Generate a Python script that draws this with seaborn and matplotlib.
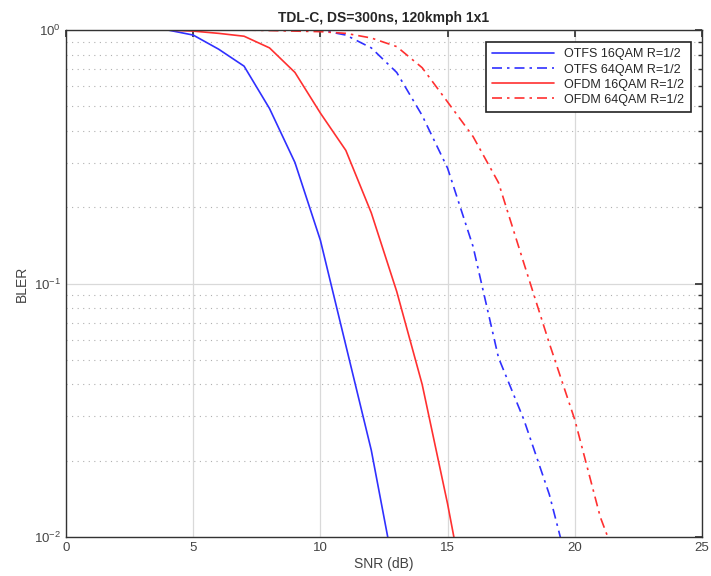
import pandas as pd
import matplotlib
matplotlib.use("Agg")
import matplotlib.pyplot as plt
import seaborn as sns

# Datos (BLER vs SNR)
snr = list(range(0, 23))

otfs_16qam = [1, 1, 1, 1, 1, 0.955, 0.84, 0.72, 0.49, 0.30, 0.148, 0.057, 0.022, 0.0065]
ofdm_16qam = [1, 1, 1, 1, 1, 0.99, 0.97, 0.945, 0.85, 0.68, 0.47, 0.335, 0.19, 0.093, 0.040,
              0.0135, 0.004]
otfs_64qam = [1, 1, 1, 1, 1, 1, 1, 1, 1, 1, 1, 0.955, 0.85, 0.68, 0.46, 0.285, 0.14, 0.051,
              0.029, 0.0147, 0.006]
ofdm_64qam = [1, 1, 1, 1, 1, 1, 1, 1, 0.995, 0.99, 0.985, 0.97, 0.93, 0.86, 0.71, 0.52, 0.38,
              0.25, 0.12, 0.058, 0.029, 0.012, 0.0065]

etiquetas = ["OTFS 16QAM R=1/2", "OTFS 64QAM R=1/2", "OFDM 16QAM R=1/2", "OFDM 64QAM R=1/2"]
series = [otfs_16qam, otfs_64qam, ofdm_16qam, ofdm_64qam]

filas = []
for etiqueta, valores in zip(etiquetas, series):
    for x, y in zip(snr, valores):
        filas.append({"SNR": x, "BLER": y, "Curva": etiqueta})
df = pd.DataFrame(filas)

sns.set_theme(style="white")
plt.rcParams["font.family"] = ["Liberation Sans", "DejaVu Sans"]
plt.rcParams["mathtext.fontset"] = "custom"
plt.rcParams["mathtext.rm"] = "Liberation Sans"
plt.rcParams["mathtext.it"] = "Liberation Sans:italic"
plt.rcParams["axes.unicode_minus"] = False

fig = plt.figure(figsize=(7.11, 5.76), dpi=100)
ax = fig.add_axes([66 / 711, 39 / 576, 636 / 711, 507 / 576])

azul = "#3030ff"
rojo = "#ff3030"
paleta = {etiquetas[0]: azul, etiquetas[1]: azul, etiquetas[2]: rojo, etiquetas[3]: rojo}
guiones = {etiquetas[0]: "", etiquetas[1]: (6, 3, 1.5, 3),
           etiquetas[2]: "", etiquetas[3]: (6, 3, 1.5, 3)}

sns.lineplot(data=df, x="SNR", y="BLER", hue="Curva", style="Curva",
             hue_order=etiquetas, style_order=etiquetas,
             palette=paleta, dashes=guiones, linewidth=1.2, ax=ax)

ax.set_yscale("log")
ax.set_xlim(0, 25)
ax.set_ylim(0.01, 1)
ax.set_xticks([0, 5, 10, 15, 20, 25])

gris_texto = "#444444"
ax.set_title("TDL-C, DS=300ns, 120kmph 1x1", fontsize=10, fontweight="bold", pad=6)
ax.set_xlabel("SNR (dB)", fontsize=10, color=gris_texto, labelpad=2)
ax.set_ylabel("BLER", fontsize=10, color=gris_texto, labelpad=4)

ax.grid(True, which="major", axis="both", color="#d9d9d9", linestyle="-", linewidth=0.9)
ax.grid(True, which="minor", axis="y", color="#b0b0b0", linestyle=(0, (1, 4)), linewidth=0.8)
ax.set_axisbelow(True)

ax.tick_params(which="both", direction="in", top=True, right=True, colors="#333333",
               labelcolor=gris_texto, labelsize=9.5)
ax.tick_params(which="major", length=5)
ax.tick_params(which="minor", length=3)
ax.tick_params(axis="x", which="minor", bottom=False, top=False)
for s in ax.spines.values():
    s.set_color("#333333")
    s.set_linewidth(1.0)

sns.move_legend(ax, "upper right", bbox_to_anchor=(0.982, 0.976), title=None,
                frameon=True, fontsize=9, fancybox=False, edgecolor="#222222",
                framealpha=1, borderaxespad=0, handlelength=5, labelspacing=0.25,
                borderpad=0.5)
ax.get_legend().get_frame().set_linewidth(1.2)

plt.savefig("out.png", dpi=100)
plt.close()
